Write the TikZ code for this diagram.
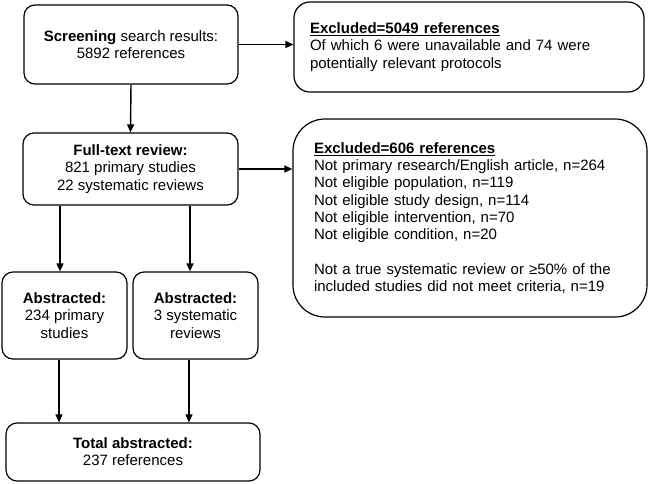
\documentclass[tikz,border=0pt]{standalone}
\usepackage{fontspec}
\setmainfont{Liberation Sans}
\usetikzlibrary{arrows.meta}
\begin{document}
\begin{tikzpicture}[x=1pt,y=-1pt,
  box/.style={draw=black, line width=1.2pt, rounded corners=11pt, align=center,
    inner sep=0pt, font=\fontsize{15}{17.25}\selectfont},
  exbox/.style={draw=black, line width=1.2pt, align=left,
    font=\fontsize{15}{17.25}\selectfont, inner ysep=0pt},
  arr/.style={-{Triangle[length=8pt,width=7pt]}, line width=1.4pt}]
\useasboundingbox (0,0) rectangle (649,483);
\node[box, minimum width=214pt, minimum height=79pt] (scr) at (131,44.5)
  {\textbf{Screening} search results:\\5892 references};
\node[exbox, rounded corners=16pt, minimum height=90pt, text width=318pt, inner xsep=16pt] (ex1) at (469,47)
  {\underline{\textbf{Excluded=5049 references}}\\
   Of which 6 were unavailable and 74 were\\
   potentially relevant protocols};
\node[box, minimum width=215pt, minimum height=72pt] (ft) at (130.5,169)
  {\textbf{Full-text review:}\\821 primary studies\\22 systematic reviews};
\node[exbox, rounded corners=32pt, minimum height=198pt, text width=312pt, inner xsep=21pt] (ex2) at (470,218)
  {\underline{\textbf{Excluded=606 references}}\\
   Not primary research/English article, n=264\\
   Not eligible population, n=119\\
   Not eligible study design, n=114\\
   Not eligible intervention, n=70\\
   Not eligible condition, n=20\\[17.25pt]
   Not a true systematic review or ≥50\% of the\\
   included studies did not meet criteria, n=19};
\node[box, minimum width=125pt, minimum height=87pt] (ab1) at (64.5,315.5)
  {\textbf{Abstracted:}\\234 primary\\studies};
\node[box, minimum width=125pt, minimum height=87pt] (ab2) at (195.5,315.5)
  {\textbf{Abstracted:}\\3 systematic\\reviews};
\node[box, minimum width=254pt, minimum height=58pt] (tot) at (133,452)
  {\textbf{Total abstracted:}\\237 references};
\coordinate (c1) at (60,0);
\coordinate (c2) at (190,0);
\coordinate (c3) at (59,0);
\coordinate (c4) at (189,0);
\draw[arr] (scr.east) -- (scr.east -| ex1.west);
\draw[arr] (scr.south) -- (ft.north);
\draw[arr] (ft.east) -- (ft.east -| ex2.west);
\draw[arr] (ft.south -| c1) -- (ab1.north -| c1);
\draw[arr] (ft.south -| c2) -- (ab2.north -| c2);
\draw[arr] (ab1.south -| c3) -- (tot.north -| c3);
\draw[arr] (ab2.south -| c4) -- (tot.north -| c4);
\end{tikzpicture}
\end{document}
